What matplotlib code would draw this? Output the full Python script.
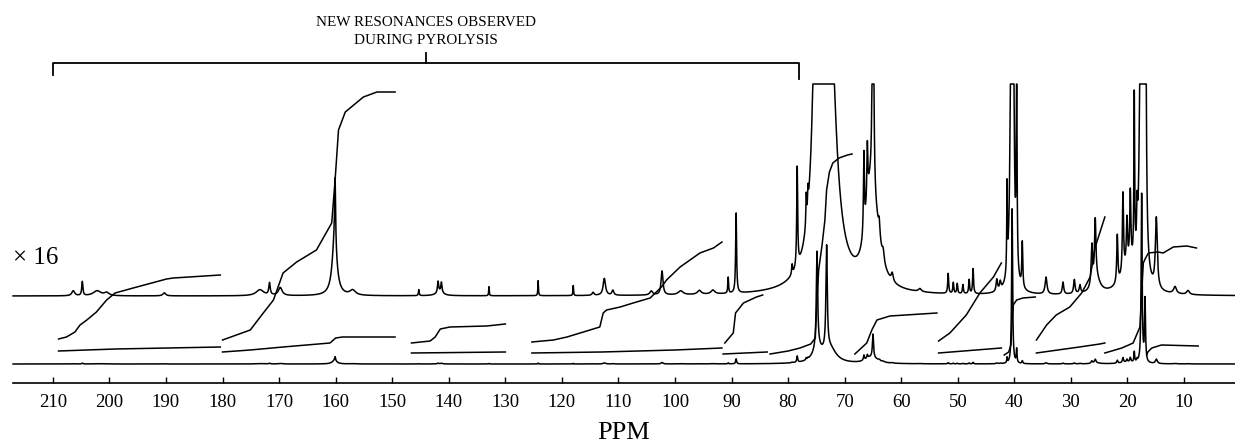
import matplotlib
matplotlib.use("Agg")
import matplotlib.pyplot as plt
import numpy as np

# ---- peak list of the x16 trace (ppm, height in px above baseline, half width in ppm)
peak_ppm = [206.4, 204.8, 202.2, 200.5, 190.3,
            173.4, 171.7, 169.8,
            160.1, 160.2, 157.0,
            145.3, 141.9, 141.3, 141.6, 132.9, 124.2, 118.0, 114.5, 112.5, 111.0,
            104.2, 102.3, 99.0, 95.7, 93.3, 90.6, 89.2,
            79.3, 78.4, 76.8, 76.5, 74.9, 73.2, 74.8, 72.6,
            66.6, 66.0, 65.0, 65.6, 64.5, 63.9, 63.2, 61.6,
            56.7, 51.7, 50.8, 50.1, 49.1, 48.0, 47.3, 43.1, 42.5,
            41.3, 40.4, 39.6, 38.6,
            34.4, 31.4, 29.4, 28.4, 26.3, 25.7, 25.5,
            21.8, 20.8, 20.1, 19.5, 18.8, 18.3, 19.8, 17.5, 16.9, 14.9, 11.6, 9.3]
peak_height = [5, 14, 5, 3, 3,
               6, 12, 8,
               65, 55, 5,
               6, 11, 10, 4, 9, 15, 10, 3, 17, 5,
               4, 24, 4, 4, 4, 16, 80,
               10, 100, 30, 20, 1540, 1650, 200, 230,
               80, 55, 380, 75, 40, 15, 10, 8,
               3, 20, 11, 10, 9, 14, 25, 12, 8,
               85, 2480, 220, 45,
               17, 12, 14, 8, 40, 60, 14,
               48, 80, 45, 70, 165, 40, 25, 2700, 1000, 70, 7, 4]
peak_width = [0.3, 0.12, 0.8, 0.5, 0.3,
              0.8, 0.15, 0.4,
              0.1, 0.5, 0.6,
              0.08, 0.12, 0.12, 0.7, 0.06, 0.06, 0.06, 0.2, 0.25, 0.2,
              0.3, 0.2, 0.5, 0.4, 0.4, 0.08, 0.1,
              0.1, 0.1, 0.08, 0.08, 0.14, 0.14, 1.0, 1.3,
              0.1, 0.1, 0.12, 1.0, 1.2, 0.15, 0.2, 0.2,
              0.3, 0.1, 0.1, 0.1, 0.1, 0.1, 0.1, 0.15, 0.15,
              0.06, 0.1, 0.08, 0.1,
              0.2, 0.15, 0.15, 0.15, 0.15, 0.15, 0.8,
              0.12, 0.12, 0.12, 0.12, 0.08, 0.1, 1.5, 0.1, 0.1, 0.2, 0.3, 0.3]

scale_factor = 16
upper_base = 87     # x16 trace baseline (px above the ppm axis)
lower_base = 19     # normal trace baseline
clip_level = 212    # recorder limit of the x16 trace

# ---- integral traces: (ppm list, height list)
integrals = [
    ([209.0, 207.6, 206.1, 205.2, 204.0, 202.3, 200.5, 199.0, 195.8, 189.9, 188.7, 180.4],
     [44, 46, 51, 58, 63, 71, 83, 90, 95, 104, 105, 108]),
    ([209.0, 199.0, 180.4], [32, 34, 36]),
    ([180.0, 175.1, 172.8, 171.0, 169.3, 166.9, 163.4, 160.7, 160.1, 159.5, 158.3, 155.1, 152.7, 149.5],
     [43, 53, 70, 83, 110, 121, 133, 160, 203, 253, 271, 286, 291, 291]),
    ([180.0, 175.1, 169.3, 161.0, 160.0, 158.8, 149.5], [31, 33, 36, 40, 45, 46, 46]),
    ([146.6, 143.3, 142.4, 141.5, 139.8, 133.3, 130.0], [40, 42, 46, 54, 56, 57, 59]),
    ([146.6, 130.0], [30, 31]),
    ([125.3, 121.5, 119.1, 116.2, 113.3, 112.7, 112.1, 109.7, 107.4, 104.4, 102.4, 101.5, 99.1, 95.6, 93.2, 91.7],
     [41, 43, 46, 51, 56, 70, 73, 76, 80, 85, 96, 103, 116, 130, 135, 141]),
    ([125.3, 113.0, 100.0, 91.7], [30, 31, 33, 35]),
    ([91.2, 89.7, 89.3, 87.9, 85.6, 84.5], [40, 50, 70, 80, 86, 88]),
    ([91.5, 83.7], [29, 31]),
    ([83.2, 80.0, 77.9, 76.0, 75.2, 74.9, 74.6, 74.0, 73.5, 73.2, 72.7, 72.1, 71.0, 69.5, 68.7],
     [29, 32, 35, 39, 45, 83, 113, 138, 163, 193, 211, 220, 225, 228, 229]),
    ([68.2, 66.1, 65.2, 64.3, 62.0, 53.7], [29, 40, 53, 63, 67, 70]),
    ([53.4, 51.4, 48.5, 46.1, 43.7, 42.3], [42, 50, 68, 90, 106, 120]),
    ([53.4, 42.3], [30, 35]),
    ([41.8, 41.0, 40.6, 40.4, 40.2, 39.6, 38.5, 36.3], [28, 31, 38, 63, 78, 83, 85, 86]),
    ([36.1, 34.3, 32.6, 30.2, 28.1, 26.6, 25.7, 24.0], [43, 58, 68, 76, 90, 106, 136, 166]),
    ([36.1, 28.5, 24.9, 24.0], [30, 36, 39, 40]),
    ([24.0, 21.0, 19.0, 17.8, 17.5, 17.2, 16.8, 16.3, 14.6, 13.7, 11.9, 9.5, 7.8],
     [30, 35, 40, 56, 90, 120, 125, 130, 131, 130, 136, 137, 135]),
    ([16.6, 16.4, 15.7, 14.0, 7.5], [28, 31, 35, 38, 37]),
]

tick_ppm = list(range(210, 0, -10))

# bracket annotation
bracket_left, bracket_right, bracket_mid = 210, 78, 144

ppm = np.linspace(217.04, 0.99, 30000)
signal = np.zeros_like(ppm)
for p, h, w in zip(peak_ppm, peak_height, peak_width):
    signal += h * w * w / ((ppm - p) ** 2 + w * w)

upper = upper_base + np.minimum(signal, clip_level)
lower = lower_base + signal / scale_factor

plt.rcParams['font.family'] = ['Liberation Serif', 'DejaVu Serif']
fig = plt.figure(figsize=(12.35, 4.46), dpi=100)

ax = fig.add_axes([0, 0, 1, 1])
ax.set_xlim(219.35, 0.99)
ax.set_ylim(-63, 383)
ax.axis('off')

lw = 1.1
ax.plot(ppm, upper, color='black', lw=lw)
ax.plot(ppm, lower, color='black', lw=lw)
for xs, ys in integrals:
    ax.plot(xs, ys, color='black', lw=lw)

ax.plot([bracket_left, bracket_left, bracket_right, bracket_right],
        [308, 320, 320, 304], color='black', lw=1.3)
ax.plot([bracket_mid, bracket_mid], [320, 330], color='black', lw=1.3)
ax.text(bracket_mid, 361, 'NEW RESONANCES OBSERVED', ha='center', va='center', fontsize=10.9)
ax.text(bracket_mid, 343, 'DURING PYROLYSIS', ha='center', va='center', fontsize=10.9)
ax.text(217.0, 125, '\u00d7 16', ha='left', va='center', fontsize=18)

# ppm scale
ax2 = fig.add_axes([13 / 1235, 63 / 446, 1222 / 1235, 0.0001])
ax2.set_xlim(217.04, 0.99)
for s in ['top', 'left', 'right']:
    ax2.spines[s].set_visible(False)
ax2.spines['bottom'].set_linewidth(1.2)
ax2.set_yticks([])
ax2.set_xticks(tick_ppm)
ax2.set_xticklabels([str(t) for t in tick_ppm])
ax2.tick_params(axis='x', direction='in', length=4, width=1, pad=8, labelsize=13.5)
ax2.set_xlabel('PPM', fontsize=19, labelpad=8)
ax2.patch.set_visible(False)

fig.savefig('out.png', dpi=100)
